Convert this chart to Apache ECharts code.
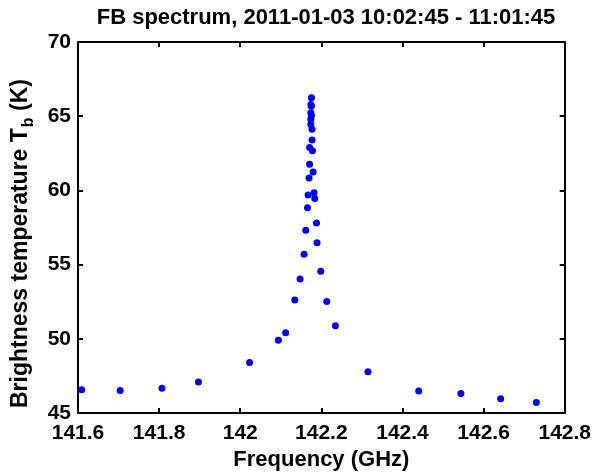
<!DOCTYPE html>
<html>
<head>
<meta charset="utf-8">
<script src="https://cdn.jsdelivr.net/npm/echarts@6/dist/echarts.min.js"></script>
<style>
  html, body { margin: 0; padding: 0; background: #fff; }
  #chart { width: 594px; height: 476px; }
</style>
</head>
<body>
<div id="chart"></div>
<script>
// 频率 (GHz)
const freq = [
  141.609, 141.704, 141.807, 141.897, 142.023, 142.094, 142.112, 142.1345,
  142.1475, 142.1574, 142.1616, 142.1658, 142.1672, 142.1697, 142.171, 142.171,
  142.174, 142.174, 142.174, 142.174, 142.1756, 142.1756, 142.1756, 142.177,
  142.177, 142.178, 142.1796, 142.182, 142.1837, 142.188, 142.1894, 142.1985,
  142.2133, 142.2347, 142.315, 142.440, 142.544, 142.642, 142.730
]
// 亮温 Tb (K)
const tb = [
  46.58, 46.52, 46.67, 47.09, 48.41, 49.90, 50.41, 52.62,
  54.04, 55.70, 57.32, 58.84, 59.69, 60.84, 61.76, 62.89,
  64.45, 64.79, 65.23, 65.79, 65.05, 65.68, 66.24, 64.12,
  63.40, 62.67, 61.24, 59.84, 59.46, 57.81, 56.48, 54.56,
  52.51, 50.88, 47.79, 46.49, 46.32, 45.96, 45.71
]
const xTicks = { min: 141.6, max: 142.8, step: 0.2 }
const yTicks = { min: 45, max: 70, step: 5 }
const titleText = 'FB spectrum, 2011-01-03 10:02:45 - 11:01:45'

const font = '"Liberation Sans", Arial, sans-serif'
const points = freq.map((f, i) => [f, tb[i]])

// 坐标轴公共样式
const lineStyle = { color: '#000', width: 2 }
const tickStyle = { show: true, inside: true, length: 5, lineStyle: { color: '#000', width: 2 } }

const chart = echarts.init(document.getElementById('chart'))
chart.setOption({
  backgroundColor: '#fff',
  animation: false,
  title: {
    text: titleText,
    left: 321,
    textAlign: 'center',
    top: 2,
    textStyle: { fontFamily: font, fontWeight: 'bold', fontSize: 22, color: '#000' }
  },
  grid: { left: 78, right: 29, top: 42, bottom: 60 },
  xAxis: [
    {
      type: 'value',
      min: xTicks.min,
      max: xTicks.max,
      interval: xTicks.step,
      name: 'Frequency (GHz)',
      nameLocation: 'middle',
      nameGap: 35,
      nameTextStyle: { fontFamily: font, fontWeight: 'bold', fontSize: 22, color: '#000' },
      axisLine: { show: true, lineStyle: lineStyle },
      axisTick: tickStyle,
      splitLine: { show: false },
      axisLabel: {
        margin: 10,
        fontFamily: font, fontWeight: 'bold', fontSize: 21, color: '#000',
        formatter: v => String(+v.toFixed(1))
      }
    },
    {
      type: 'value',
      position: 'top',
      min: xTicks.min,
      max: xTicks.max,
      interval: xTicks.step,
      axisLine: { show: true, lineStyle: lineStyle },
      axisTick: tickStyle,
      axisLabel: { show: false },
      splitLine: { show: false }
    }
  ],
  yAxis: [
    {
      type: 'value',
      min: yTicks.min,
      max: yTicks.max,
      interval: yTicks.step,
      name: '{a|Brightness temperature T}{s|b}{a| (K)}',
      nameLocation: 'middle',
      nameGap: 30,
      nameRotate: 90,
      nameTextStyle: {
        padding: [0, 32, 0, 0],
        rich: {
          a: { fontFamily: font, fontWeight: 'bold', fontSize: 23, color: '#000' },
          s: { fontFamily: font, fontWeight: 'bold', fontSize: 16, color: '#000', padding: [16, 0, 0, 1] }
        }
      },
      axisLine: { show: true, lineStyle: lineStyle },
      axisTick: tickStyle,
      splitLine: { show: false },
      axisLabel: {
        margin: 7,
        fontFamily: font, fontWeight: 'bold', fontSize: 21, color: '#000'
      }
    },
    {
      type: 'value',
      position: 'right',
      min: yTicks.min,
      max: yTicks.max,
      interval: yTicks.step,
      axisLine: { show: true, lineStyle: lineStyle },
      axisTick: tickStyle,
      axisLabel: { show: false },
      splitLine: { show: false }
    }
  ],
  series: [
    {
      type: 'scatter',
      data: points,
      symbol: 'circle',
      symbolSize: 7,
      itemStyle: { color: '#0000ff', opacity: 1 }
    }
  ]
})
</script>
</body>
</html>
